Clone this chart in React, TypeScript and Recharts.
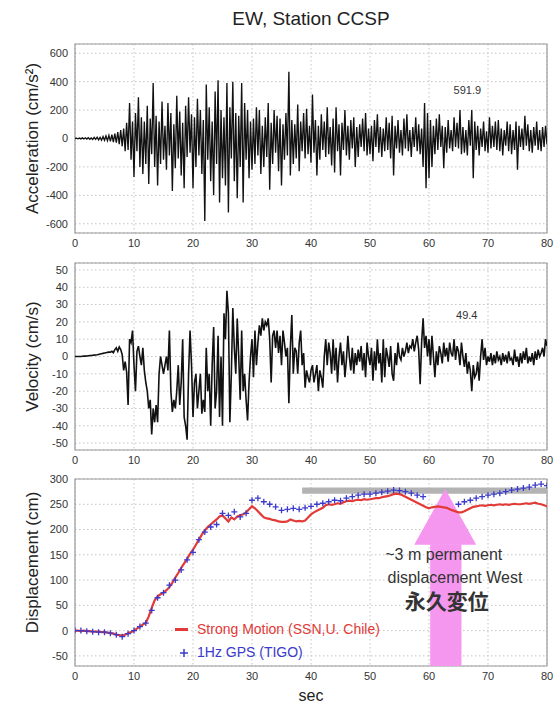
import React from 'react';
import {
  ComposedChart,
  Line,
  XAxis,
  YAxis,
  CartesianGrid,
  ReferenceArea,
  ReferenceDot,
  Legend,
} from 'recharts';

const FONT = '"Liberation Sans", Arial, Helvetica, sans-serif';
const RED = '#e23a36';
const BLUE = '#3a3acc';
const PINK = '#f596ef';

const TIME_TICKS = [0, 10, 20, 30, 40, 50, 60, 70, 80];
const ACC_TICKS = [-600, -400, -200, 0, 200, 400, 600];
const VEL_TICKS = [-50, -40, -30, -20, -10, 0, 10, 20, 30, 40, 50];
const DISP_TICKS = [-50, 0, 50, 100, 150, 200, 250, 300];

// acceleration (cm/s^2), one value every 0.25 s (4 per row = 1 s)
const ACC_STEP = 0.25;
const accValues = [
  0, 2, -2, 3,
  -3, 4, -3, 5,
  -4, 6, -5, 4,
  -7, 8, -6, 9,
  -10, 8, -12, 14,
  -12, 18, -15, 22,
  -20, 28, -25, 35,
  -30, 45, -40, 60,
  -55, 70, -90, 110,
  -80, 250, -150, 120,
  -270, 180, -90, 290,
  -200, 150, -250, 120,
  -180, 230, -320, 140,
  -110, 390, -200, 160,
  -330, 120, -180, 260,
  -150, 90, -220, 250,
  -120, 180, -370, 100,
  -210, 300, -140, 190,
  -260, 110, -350, 230,
  -130, 290, -100, 170,
  -350, 150, -200, 280,
  -120, 200, -250, 130,
  -580, 380, -150, 220,
  -300, 120, -400, 330,
  -180, 410, -450, 200,
  -280, 150, -330, 390,
  -520, 220, -140, 400,
  -300, 180, -420, 160,
  -200, 390, -450, 250,
  -150, 200, -280, 120,
  -220, 140, -180, 220,
  -120, 200, -250, 90,
  -200, 150, -130, 250,
  -360, 110, -180, 200,
  -100, 160, -230, 140,
  -330, 100, -150, 180,
  -120, 470, -260, 130,
  -180, 100, -140, 240,
  -230, 120, -90, 180,
  -140, 210, -110, 90,
  -170, 310, -100, 130,
  -260, 90, -150, 170,
  -80, 120, -130, 220,
  -110, 80, -190, 140,
  -240, 220, -90, 100,
  -260, 110, -80, 200,
  -120, 90, -150, 130,
  -70, 150, -200, 80,
  -130, 100, -60, 140,
  -90, 180, -120, 70,
  -110, 90, -160, 130,
  -60, 170, -100, 80,
  -130, 70, -90, 150,
  -80, 110, -140, 160,
  -260, 90, -70, 130,
  -100, 60, -120, 140,
  -70, 170, -90, 60,
  -130, 80, -60, 150,
  -90, 100, -110, 70,
  -200, 250, -350, 180,
  -280, 130, -200, 90,
  -110, 140, -80, 170,
  -60, 90, -210, 80,
  -100, 130, -70, 60,
  -90, 150, -60, 110,
  -70, 200, -110, 80,
  -100, 60, -120, 130,
  -50, 200, -280, 120,
  -80, 90, -120, 70,
  -60, 120, -90, 50,
  -100, 150, -70, 90,
  -60, 120, -80, 130,
  -90, 70, -120, 60,
  -50, 120, -90, 100,
  -110, 60, -80, 120,
  -220, 90, -60, 70,
  -80, 160, -50, 100,
  -90, 60, -100, 80,
  -50, 120, -80, 60,
  -90, 80, -60, 90,
  -40,
];

// velocity (cm/s), one value every 0.25 s
const VEL_STEP = 0.25;
const velValues = [
  0, 0, 0, 0,
  0, 0.1, 0.2, 0.2,
  0.3, 0.4, 0.5, 0.6,
  0.7, 0.8, 0.9, 1.0,
  1.2, 1.4, 1.6, 1.8,
  2.0, 2.2, 2.4, 2.5,
  2.5, 3, 2.2, 4,
  5, 3, 5.5, 4,
  1, -8, -3, -9,
  -28, 10, 8, 15,
  -5, -20, 3, 6,
  0, -5, 5, -8,
  -15, -20, -30, -25,
  -45, -30, -38, -28,
  -38, -10, 0, -5,
  -10, -5, 0, -8,
  15, -20, -32, -25,
  -30, -20, -5, -28,
  -15, 10, -35, -40,
  -48, -10, 15, -5,
  -35, -15, -10, -30,
  -20, -10, -33, -25,
  -32, 5, -20, -10,
  -40, -5, 17, -30,
  -20, 12, -35, 0,
  -40, 25, 10, 38,
  25, -38, -10, 28,
  5, -10, 22, 0,
  -25, 15, -20, -10,
  -25, -37, -15, 0,
  10, -12, 15, -5,
  8, 18, 12, 22,
  15, 20, 18, 22,
  10, -15, 12, 15,
  5, 15, 2, 12,
  -5, 15, 8, 0,
  5, -27, 5, 24,
  -10, 5, 3, -10,
  8, 15, -5, 2,
  -18, -8, -12, -15,
  -8, -5, -15, -10,
  -5, -20, -8, -12,
  -18, 0, 10, -5,
  8, 2, -10, 10,
  -8, 5, -15, 0,
  8, -5, 3, -12,
  -2, 12, 0, -8,
  5, -10, 2, -5,
  4, -3, 6, -8,
  2, -12, 8, 0,
  -5, 5, -14, 3,
  -8, 10, -4, 2,
  -15, 10, -12, 5,
  0, -6, 6, -10,
  -14, 2, -5, 8,
  0, -2, 5, 0,
  3, 8, 2, 6,
  5, 10, 3, 8,
  12, 4, -16, 8,
  22, 5, 12, 0,
  10, -5, 12, 0,
  -12, 3, -5, 6,
  2, -4, 8, 0,
  5, -3, 8, 2,
  0, 10, -2, 6,
  3, -5, 8, 0,
  -6, 2, -10, -3,
  -8, -20, -5, -12,
  -10, -3, -14, 0,
  10, -2, 5, -5,
  0, -3, 2, -5,
  1, -4, 3, -2,
  0, -5, 2, -3,
  1, -4, 3, -2,
  -1, -5, 4, -3,
  0, -6, 2, -4,
  3, -2, 5, -4,
  0, -3, 2, -5,
  3, -2, 4, 0,
  2, 5, 0, 10,
  6,
];

// strong-motion displacement (cm), one value every 0.5 s (10 per row = 5 s)
const DISP_STEP = 0.5;
const smDispValues = [
  0, 0, -1, 0, -1, -1, -2, -2, -2, -3,
  -3, -4, -5, -6, -8, -9, -10, -8, -5, -3,
  0, 4, 8, 12, 15, 28, 45, 60, 68, 72,
  75, 80, 86, 95, 105, 114, 124, 133, 142, 152,
  160, 170, 180, 190, 198, 205, 210, 215, 220, 226,
  228, 222, 216, 224, 220, 226, 228, 230, 234, 240,
  246, 242, 236, 230, 224, 222, 221, 219, 218, 216,
  215, 215, 216, 220, 218, 216, 217, 216, 218, 224,
  230, 234, 237, 240, 243, 248, 250, 249, 250, 252,
  251, 254, 256, 257, 256, 258, 259, 258, 260, 259,
  260, 261, 262, 262, 264, 265, 266, 268, 270, 271,
  270, 268, 265, 262, 259, 256, 253, 250, 247, 244,
  242, 244, 245, 246, 245, 244, 243, 240, 238, 236,
  234, 234, 236, 239, 242, 245, 246, 247, 248, 247,
  248, 249, 248, 249, 250, 249, 250, 249, 250, 251,
  250, 250, 251, 252, 251, 252, 253, 251, 250, 248,
  246,
];

// 1 Hz GPS displacement (cm), one value per second (null = no point shown)
const gpsValues = [
  0, 0, -1, -2, -3, -3, -5, -8, -12, -6,
  0, 8, 15, 40, 65, 75, 90, 100, 120, 140,
  155, 180, 195, 205, 210, 232, 228, 235, 225, 232,
  258, 262, 255, 250, 245, 238, 240, 242, 240, 243,
  246, 250, 252, 255, 258, 257, 262, 265, 268, 270,
  270, 272, 274, 276, 278, 277, 275, 272, 268, 265,
  null, null, null, null, null,
  250, 255, 258, 262, 265,
  268, 270, 272, 275, 278, 280, 282, 284, 288, 290,
  287,
];

// annotations
const peakAcc = { t: 66.5, v: 340, text: '591.9' };
const peakVel = { t: 66.4, v: 24, text: '49.4' };
const refBand = { t1: 38.5, t2: 80, v1: 271, v2: 283 };
const arrowShaft = { t1: 60.2, t2: 65.5, v1: -70, v2: 171 };
const arrowHead = { t1: 57.5, t2: 68, v1: 170, v2: 280 };
const noteLines = [
  { t: 62.5, v: 151, text: '~3 m permanent', size: 16, weight: 'normal', family: FONT },
  { t: 64.4, v: 106, text: 'displacement West', size: 16, weight: 'normal', family: FONT },
  { t: 63.0, v: 57, text: '永久変位', size: 21, weight: 'bold', family: '"Noto Sans CJK JP", sans-serif' },
];

const accTable = accValues.map((a, i) => ({ t: i * ACC_STEP, a }));
const velTable = velValues.map((v, i) => ({ t: i * VEL_STEP, v }));
const smTable = smDispValues.map((d, i) => ({ t: i * DISP_STEP, d }));
const gpsTable = gpsValues
  .map((g, i) => ({ t: i, g }))
  .filter((p) => p.g !== null);

const tickStyle = { fontSize: 11, fill: '#333', fontFamily: FONT };

const yTitle = (text: string, dy = 0) => (props: any) => {
  const vb = props.viewBox || {};
  const x = (vb.x ?? 0) + 32;
  const y = (vb.y ?? 0) + (vb.height ?? 0) / 2 + dy;
  return (
    <text
      x={x}
      y={y}
      transform={`rotate(-90 ${x} ${y})`}
      textAnchor="middle"
      dominantBaseline="central"
      fontSize={17}
      fill="#222"
      fontFamily={FONT}
    >
      {text}
    </text>
  );
};

const xTitle = (text: string) => (props: any) => {
  const vb = props.viewBox || {};
  const x = (vb.x ?? 0) + (vb.width ?? 0) / 2;
  const y = (vb.y ?? 0) + (vb.height ?? 0) + 9;
  return (
    <text x={x} y={y} textAnchor="middle" dominantBaseline="central" fontSize={16} fill="#222" fontFamily={FONT}>
      {text}
    </text>
  );
};

const plusDot = (props: any) => {
  const { cx, cy, key } = props;
  if (cx == null || cy == null) return <g key={key} />;
  return (
    <path
      key={key}
      d={`M${cx - 3},${cy}h6M${cx},${cy - 3}v6`}
      stroke={BLUE}
      strokeWidth={1.3}
      fill="none"
    />
  );
};

const headShape = (p: any) => {
  const { x, y, width, height } = p;
  return (
    <polygon
      points={`${x},${y + height} ${x + width / 2},${y} ${x + width},${y + height}`}
      fill={PINK}
      stroke="none"
    />
  );
};

const renderLegend = () => (
  <div style={{ fontFamily: FONT, fontSize: 14, lineHeight: '23px', whiteSpace: 'nowrap' }}>
    <div style={{ color: RED, display: 'flex', alignItems: 'center' }}>
      <span style={{ display: 'inline-block', width: 13, height: 2.5, background: RED, marginRight: 9 }} />
      Strong Motion (SSN,U. Chile)
    </div>
    <div style={{ color: BLUE, display: 'flex', alignItems: 'center' }}>
      <svg width={22} height={10} style={{ display: 'block' }}>
        <path d="M5 5h8M9 1v8" stroke={BLUE} strokeWidth={1.5} />
      </svg>
      1Hz GPS (TIGO)
    </div>
  </div>
);

const gridProps = { stroke: '#c4c4c4', strokeDasharray: '1.5 2.5' };
const borderProps = { fill: 'none', stroke: '#9a9a9a', strokeWidth: 1.2, fillOpacity: 0 };

const xAxisProps = {
  dataKey: 't',
  type: 'number' as const,
  domain: [0, 80],
  ticks: TIME_TICKS,
  height: 20,
  tickLine: false,
  axisLine: false,
  tick: tickStyle,
  tickSize: 4,
  tickMargin: 2,
  interval: 0 as const,
  allowDataOverflow: true,
};

const yAxisBase = {
  type: 'number' as const,
  width: 75,
  tickLine: false,
  axisLine: false,
  tick: tickStyle,
  tickSize: 5,
  tickMargin: 2,
  interval: 0 as const,
  allowDataOverflow: true,
};

export default function App() {
  return (
    <div
      style={{
        position: 'absolute',
        left: 0,
        top: 0,
        width: 555,
        height: 705,
        background: '#fff',
        fontFamily: FONT,
        overflow: 'hidden',
      }}
    >
      <div
        style={{
          position: 'absolute',
          left: 161,
          top: 8,
          width: 300,
          textAlign: 'center',
          fontSize: 19,
          lineHeight: '22px',
          color: '#222',
        }}
      >
        EW, Station CCSP
      </div>

      {/* Acceleration */}
      <div style={{ position: 'absolute', left: 0, top: 0 }}>
        <ComposedChart width={555} height={260} data={accTable} margin={{ top: 44, right: 8, bottom: 7, left: 0 }}>
          <CartesianGrid {...gridProps} />
          <XAxis {...xAxisProps} />
          <YAxis {...yAxisBase} domain={[-665, 665]} ticks={ACC_TICKS} label={yTitle('Acceleration (cm/s²)')} />
          <ReferenceArea x1={0} x2={80} y1={-665} y2={665} {...borderProps} ifOverflow="visible" />
          <Line dataKey="a" stroke="#111" strokeWidth={1.35} dot={false} isAnimationActive={false} />
          <ReferenceDot
            x={peakAcc.t}
            y={peakAcc.v}
            r={0}
            fill="none"
            stroke="none"
            label={{ value: peakAcc.text, position: 'center', fontSize: 11, fill: '#333', fontFamily: FONT }}
          />
        </ComposedChart>
      </div>

      {/* Velocity */}
      <div style={{ position: 'absolute', left: 0, top: 240 }}>
        <ComposedChart width={555} height={240} data={velTable} margin={{ top: 23, right: 8, bottom: 10, left: 0 }}>
          <CartesianGrid {...gridProps} />
          <XAxis {...xAxisProps} />
          <YAxis {...yAxisBase} domain={[-54, 54]} ticks={VEL_TICKS} label={yTitle('Velocity (cm/s)')} />
          <ReferenceArea x1={0} x2={80} y1={-54} y2={54} {...borderProps} ifOverflow="visible" />
          <Line dataKey="v" stroke="#111" strokeWidth={1.6} dot={false} isAnimationActive={false} />
          <ReferenceDot
            x={peakVel.t}
            y={peakVel.v}
            r={0}
            fill="none"
            stroke="none"
            label={{ value: peakVel.text, position: 'center', fontSize: 11, fill: '#333', fontFamily: FONT }}
          />
        </ComposedChart>
      </div>

      {/* Displacement */}
      <div style={{ position: 'absolute', left: 0, top: 460 }}>
        <ComposedChart width={555} height={245} data={smTable} margin={{ top: 19, right: 8, bottom: 19, left: 0 }}>
          <CartesianGrid {...gridProps} />
          <XAxis {...xAxisProps} label={xTitle('sec')} />
          <YAxis {...yAxisBase} domain={[-70, 300]} ticks={DISP_TICKS} label={yTitle('Displacement (cm)', -10)} />
          <ReferenceArea x1={0} x2={80} y1={-70} y2={300} {...borderProps} ifOverflow="visible" />
          <ReferenceArea
            x1={refBand.t1}
            x2={refBand.t2}
            y1={refBand.v1}
            y2={refBand.v2}
            fill="#b3b3b3"
            fillOpacity={1}
            stroke="none"
            ifOverflow="visible"
          />
          <Line
            data={gpsTable}
            dataKey="g"
            stroke="none"
            dot={plusDot}
            activeDot={false}
            legendType="none"
            isAnimationActive={false}
          />
          <ReferenceArea
            x1={arrowShaft.t1}
            x2={arrowShaft.t2}
            y1={arrowShaft.v1}
            y2={arrowShaft.v2}
            fill={PINK}
            fillOpacity={1}
            stroke="none"
            ifOverflow="visible"
          />
          <ReferenceArea
            x1={arrowHead.t1}
            x2={arrowHead.t2}
            y1={arrowHead.v1}
            y2={arrowHead.v2}
            shape={headShape}
            ifOverflow="visible"
          />
          <Line dataKey="d" stroke={RED} strokeWidth={2.2} dot={false} isAnimationActive={false} />
          {noteLines.map((n) => (
            <ReferenceDot
              key={n.text}
              x={n.t}
              y={n.v}
              r={0}
              fill="none"
              stroke="none"
              label={{
                value: n.text,
                position: 'center',
                fontSize: n.size,
                fontWeight: n.weight,
                fill: '#333',
                fontFamily: n.family,
              }}
            />
          ))}
          <Legend
            layout="vertical"
            align="center"
            verticalAlign="middle"
            content={renderLegend}
            wrapperStyle={{ position: 'absolute', left: 175, top: 158, width: 'auto', height: 'auto' }}
          />
        </ComposedChart>
      </div>
    </div>
  );
}
